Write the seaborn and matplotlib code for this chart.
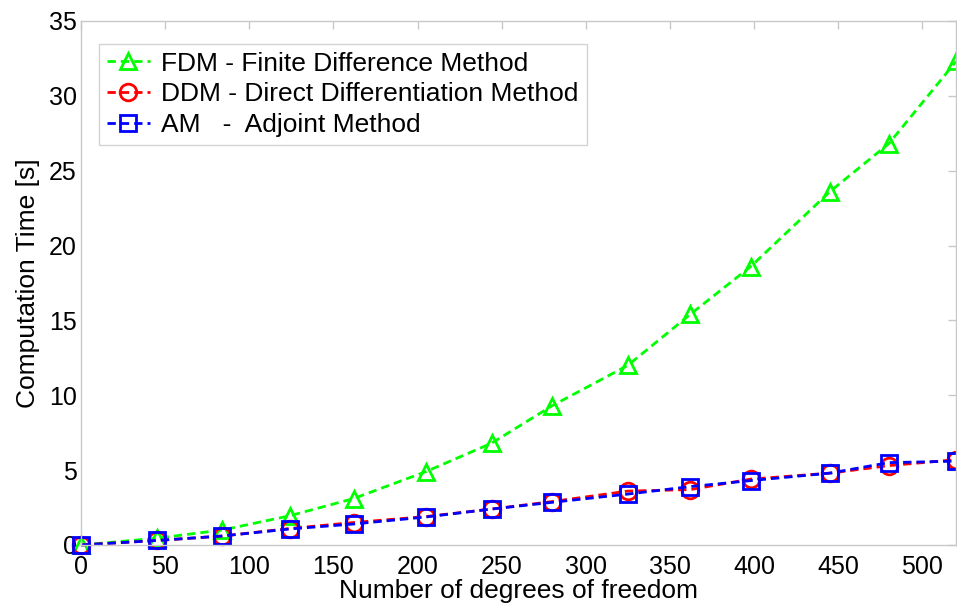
import matplotlib
matplotlib.use("Agg")
import matplotlib.pyplot as plt
import seaborn as sns
import pandas as pd

# Degrees of freedom sampled
dof = [0, 45, 84, 124, 162, 205, 244, 280, 325, 362, 398, 445, 480, 520]

# Computation time [s] for each sensitivity method
fdm_time = [0.0, 0.45, 1.0, 1.95, 3.1, 4.9, 6.8, 9.3, 12.0, 15.4, 18.6, 23.6, 26.8, 32.3]
ddm_time = [0.0, 0.3, 0.6, 1.1, 1.5, 1.9, 2.4, 2.9, 3.6, 3.7, 4.4, 4.8, 5.3, 5.7]
am_time = [0.0, 0.3, 0.6, 1.07, 1.4, 1.87, 2.4, 2.85, 3.4, 3.9, 4.3, 4.8, 5.5, 5.6]

labels = ["FDM - Finite Difference Method",
          "DDM - Direct Differentiation Method",
          "AM   -  Adjoint Method"]
colors = ["#00ff00", "#ff0000", "#0000ff"]
markers = ["^", "o", "s"]

x_ticks = list(range(0, 501, 50))
y_ticks = list(range(0, 36, 5))

sns.set_theme(style="white")
plt.rcParams["font.family"] = ["Liberation Sans", "DejaVu Sans"]
plt.rcParams["text.color"] = "black"
plt.rcParams["axes.labelcolor"] = "black"

fig = plt.figure(figsize=(9.57, 6.12), dpi=100)
ax = fig.add_axes([0.0846, 0.1095, 0.9144, 0.8562])

for series, label, color, marker in zip([fdm_time, ddm_time, am_time], labels, colors, markers):
    df = pd.DataFrame({"dof": dof, "time": series})
    sns.lineplot(data=df, x="dof", y="time", ax=ax, label=label, color=color,
                 linestyle="--", linewidth=2, marker=marker, markersize=12,
                 markerfacecolor="none", markeredgecolor=color, markeredgewidth=2,
                 clip_on=False, dashes=False)
    ax.lines[-1].set_linestyle((0, (3.0, 1.8)))

ax.set_xlim(0, 520)
ax.set_ylim(0, 35)
ax.set_xticks(x_ticks)
ax.set_yticks(y_ticks)
ax.tick_params(axis="both", which="both", direction="in", length=6, width=1,
               color="#c8c8c8", labelsize=18, labelcolor="black",
               top=True, right=True)
ax.tick_params(axis="x", pad=7)
ax.tick_params(axis="y", pad=3)
for side in ["left", "right", "top", "bottom"]:
    ax.spines[side].set_color("#c8c8c8")
    ax.spines[side].set_linewidth(1)

ax.set_xlabel("Number of degrees of freedom", fontsize=19, labelpad=0)
ax.set_ylabel("Computation Time [s]", fontsize=19, labelpad=6)

leg = ax.legend(loc="upper left", bbox_to_anchor=(0.0, 0.992), fontsize=19,
                frameon=True, fancybox=False, handlelength=1.6, handletextpad=0.45,
                borderpad=0.3, labelspacing=0.25, borderaxespad=0.7)
leg.get_frame().set_edgecolor("#c8c8c8")
leg.get_frame().set_linewidth(1)

fig.savefig("out.png", dpi=100)
